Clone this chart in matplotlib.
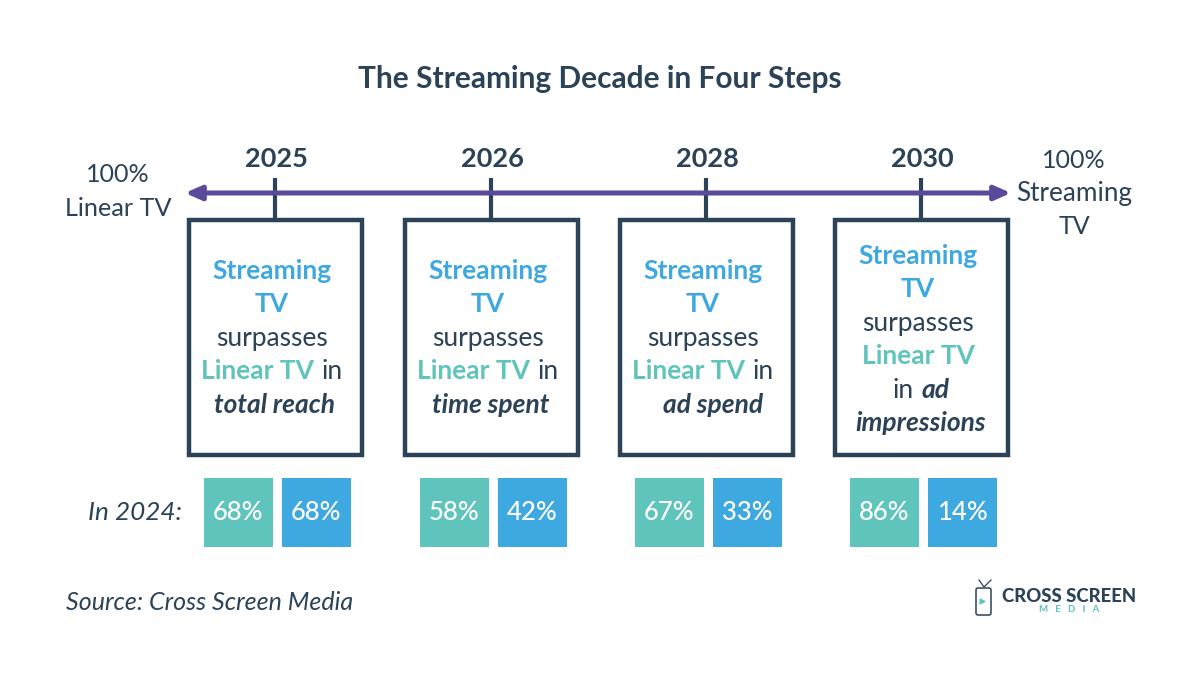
import matplotlib
matplotlib.use('Agg')
import matplotlib.pyplot as plt
from matplotlib.patches import Rectangle, FancyBboxPatch

plt.rcParams['font.family'] = ['Lato', 'DejaVu Sans']

navy = '#2b4257'
blue = '#3ea8e0'
teal = '#5fc4bb'
purple = '#5b4a9c'

years = ['2025', '2026', '2028', '2030']
teal_pct = [68, 58, 67, 86]
blue_pct = [68, 42, 33, 14]
box_centers = [275, 491, 706, 921]

# each line is a list of (text, colour, bold, italic) runs
S = ('Streaming', blue, True, False)
T = ('TV', blue, True, False)
sur = ('surpasses', navy, False, False)
L = ('Linear TV', teal, True, False)
box_lines = [
    [[S], [T], [sur], [L, (' in', navy, False, False)], [('total reach', navy, True, True)]],
    [[S], [T], [sur], [L, (' in', navy, False, False)], [('time spent', navy, True, True)]],
    [[S], [T], [sur], [L, (' in', navy, False, False)], [('ad spend', navy, True, True)]],
    [[S], [T], [sur], [L], [('in ', navy, False, False), ('ad', navy, True, True)], [('impressions', navy, True, True)]],
]
# the copy in the boxes is not quite centred in the reference
line_shift = [
    [-3, -3, -3, -3, 0],
    [-3, -3, -3, -3, 0],
    [-3, -3, -3, -3, 7],
    [-3, -3, -3, -3, 0, 0],
]

fig = plt.figure(figsize=(12, 6.83), dpi=100)
ax = fig.add_axes([0, 0, 1, 1])
ax.set_xlim(0, 1200)
ax.set_ylim(683, 0)
ax.axis('off')


def draw_line(runs, cx, y, size):
    # measure the runs first so a mixed colour line stays centred
    renderer = fig.canvas.get_renderer()
    pieces = []
    for txt, col, bold, ital in runs:
        t = ax.text(0, y, txt, color=col, fontsize=size, va='center_baseline', ha='left',
                    fontweight='bold' if bold else 'normal',
                    fontstyle='italic' if ital else 'normal')
        # trailing/leading spaces are not measured reliably, so add them by hand
        w = t.get_window_extent(renderer).width
        if txt.startswith(' ') or txt.endswith(' '):
            t.set_text(txt.strip())
            w = t.get_window_extent(renderer).width + 7
        pieces.append((t, w, txt))
    x = cx - sum(p[1] for p in pieces) / 2
    for t, w, txt in pieces:
        t.set_x(x + 7 if txt.startswith(' ') else x)
        x += w


ax.text(600, 79, 'The Streaming Decade in Four Steps', ha='center', va='center',
        fontsize=21.5, fontweight='bold', color=navy)

# timeline arrow
ax.annotate('', xy=(185, 193), xytext=(1011, 193),
            arrowprops=dict(arrowstyle='<|-|>,head_length=0.95,head_width=0.42', color=purple,
                            lw=3.6, shrinkA=0, shrinkB=0))

ax.text(118, 175, '100%', ha='center', va='center', fontsize=18, color=navy)
ax.text(118, 208, 'Linear TV', ha='center', va='center', fontsize=18.2, color=navy)
ax.text(1074, 161, '100%', ha='center', va='center', fontsize=18, color=navy)
ax.text(1074, 194, 'Streaming', ha='center', va='center', fontsize=18.8, color=navy)
ax.text(1074, 227, 'TV', ha='center', va='center', fontsize=18, color=navy)

for i, cx in enumerate(box_centers):
    ax.text(cx + 1, 159, years[i], ha='center', va='center', fontsize=19.5, fontweight='bold', color=navy)
    ax.plot([cx, cx], [178, 220], color=navy, lw=3, solid_capstyle='butt')
    ax.add_patch(Rectangle((cx - 86.5, 220), 173, 235, fill=False, ec=navy, lw=3.2))

    lines = box_lines[i]
    y0 = 269 if len(lines) == 5 else 254
    for j, runs in enumerate(lines):
        draw_line(runs, cx + line_shift[i][j], y0 + j * 33.4, 19)

    ax.add_patch(Rectangle((cx - 71, 478), 68.5, 69, fc=teal, ec='none'))
    ax.add_patch(Rectangle((cx + 7, 478), 68.5, 69, fc=blue, ec='none'))
    ax.text(cx - 36.5, 512, f'{teal_pct[i]}%', ha='center', va='center', fontsize=18.5, fontweight='medium', color='white')
    ax.text(cx + 41, 512, f'{blue_pct[i]}%', ha='center', va='center', fontsize=18.5, fontweight='medium', color='white')

ax.text(182, 513, 'In 2024:', ha='right', va='center', fontsize=18.8, fontstyle='italic', color=navy)
ax.text(66, 602, 'Source: Cross Screen Media', ha='left', va='center', fontsize=18, fontstyle='italic', color=navy)

# logo
ax.add_patch(FancyBboxPatch((976, 588), 15, 27, boxstyle='round,pad=0,rounding_size=2', fill=False, ec=navy, lw=1.1))
ax.plot([979, 984, 991], [580, 587, 580], color=navy, lw=0.9)
ax.plot([982], [601], marker='>', color=teal, ms=3.5)
ax.text(1002, 596, 'CROSS SCREEN', ha='left', va='center', fontsize=13.3, fontweight='black', color=navy)
ax.text(1069, 610, 'M   E   D   I   A', ha='center', va='center', fontsize=7, fontweight='bold', color=teal)

fig.savefig('out.png', dpi=100)
